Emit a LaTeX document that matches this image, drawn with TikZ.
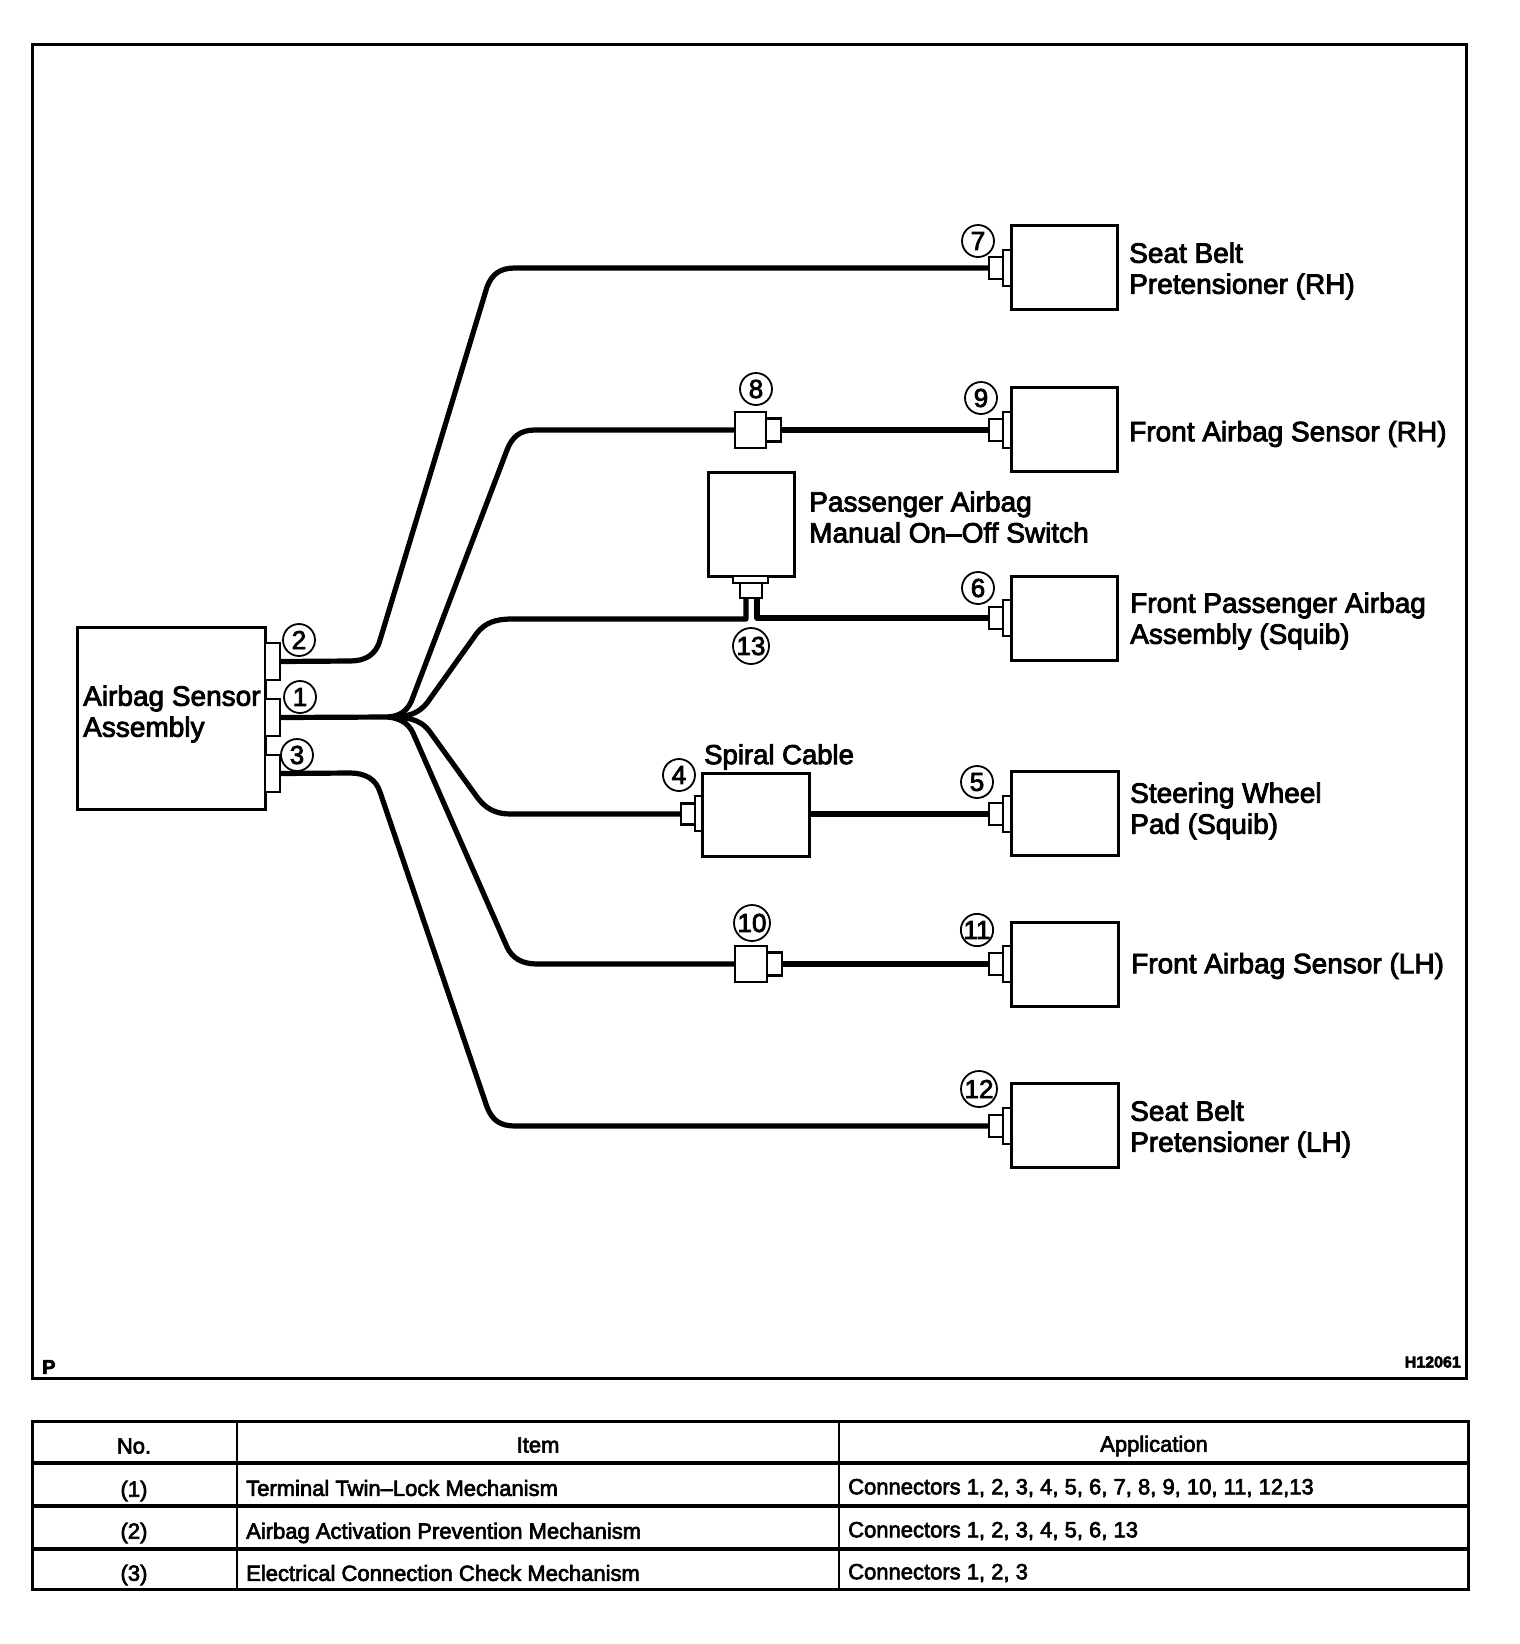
\documentclass[tikz,border=0pt]{standalone}
\usepackage{fontspec}
\setmainfont[FakeBold=3]{Liberation Sans}
\tikzset{
  x=1pt,y=-1pt,
  boxn/.style={draw,line width=3pt,fill=white,anchor=north west,inner sep=0pt,outer sep=0pt},
  part/.style={draw,line width=2.6pt,fill=white,anchor=north west,inner sep=0pt,outer sep=0pt},
  num/.style={circle,draw,line width=1.8pt,minimum size=32pt,inner sep=0pt,font=\fontsize{26}{26}\selectfont},
  numb/.style={num,minimum size=36pt},
  wire/.style={line width=5.2pt,line join=round},
  lab/.style={anchor=west,align=left,inner sep=0pt,font=\fontsize{28}{31}\selectfont},
  cell/.style={inner sep=0pt,font=\fontsize{22}{22}\selectfont},
  cellw/.style={cell,anchor=west},
  rule/.style={line width=3.2pt},
}
\newcommand{\rbox}[5]{\node[#1,minimum width=#4 pt,minimum height=#5 pt] (#2) at #3 {};}
\newcommand{\termconn}[2]{%
  \rbox{part}{#1f}{(1003,#2-18)}{8}{36}
  \rbox{part}{#1p}{(989,#2-11)}{14}{22}
}
\begin{document}
\begin{tikzpicture}
\useasboundingbox (0,0) rectangle (1520,1644);
\node[draw,rule,anchor=north west,minimum width=1434pt,minimum height=1334pt,inner sep=0pt] (frame) at (31,42.5) {};
% wires
\coordinate (fan) at (388,717);
% end boxes
\rbox{boxn}{b7}{(1011,225)}{106}{84}
\rbox{boxn}{b9}{(1011,387)}{106}{84}
\rbox{boxn}{b6}{(1011,576)}{106}{84}
\rbox{boxn}{b5}{(1011,771)}{107}{84}
\rbox{boxn}{b11}{(1011,922)}{107}{84}
\rbox{boxn}{b12}{(1011,1083)}{107}{84}
\termconn{c7}{268}
\termconn{c9}{430}
\termconn{c6}{618}
\termconn{c5}{814}
\termconn{c11}{964}
\termconn{c12}{1126}
% sensor
\rbox{boxn}{sensor}{(77,627)}{188}{182}
\rbox{part}{c2}{(265,643)}{15}{37}
\rbox{part}{c1}{(265,699)}{15}{37}
\rbox{part}{c3}{(265,755)}{15}{37}
% inline connectors
\rbox{part}{c8b}{(735,412)}{31}{36}
\rbox{part}{c8p}{(766,418.5)}{15}{23}
\rbox{part}{c10b}{(735,946)}{32}{36}
\rbox{part}{c10p}{(767,952.5)}{15}{23}
% switch
\rbox{boxn}{sw}{(708,472)}{86}{104}
\rbox{part}{swf}{(733,576)}{35}{7}
\rbox{part}{swp}{(740,583)}{22}{15}
% spiral
\rbox{boxn}{spiral}{(702,773)}{107}{83}
\rbox{part}{c4f}{(695,796)}{7}{35}
\rbox{part}{c4p}{(681,803.5)}{14}{21}
% connectors
\draw[wire] (c2.east) -- (350,661) .. controls (365,661) and (376,655) .. (380,640)
  -- (487,287) .. controls (492,274) and (500,268) .. (515,268) -- (c7p.west);
\draw[wire] (c1.east) -- (fan);
\draw[wire] (fan) .. controls (402,716) and (409,709) .. (413,697)
  -- (507,450) .. controls (512,437) and (520,430) .. (535,430) -- (c8b.west);
\draw[wire] (c8p.east) -- (c9p.west);
\draw[wire] (fan) .. controls (408,717) and (418,714) .. (427,703)
  -- (477,633) .. controls (485,623) and (495,619) .. (512,619) -- (746,619) -- (746,598);
\coordinate (swr) at (757,598);
\draw[wire] (swr) -- (757,618) -- (c6p.west);
\draw[wire] (fan) .. controls (405,717) and (420,718) .. (430,732)
  -- (477,797) .. controls (485,808) and (495,814) .. (510,814) -- (c4p.west);
\draw[wire] (spiral.east |- c5p.west) -- (c5p.west);
\draw[wire] (fan) .. controls (398,718) and (408,722) .. (413,733)
  -- (507,947) .. controls (512,958) and (522,964) .. (537,964) -- (c10b.west);
\draw[wire] (c10p.east) -- (c11p.west);
\draw[wire] (c3.east) -- (350,773) .. controls (365,773) and (376,779) .. (380,792)
  -- (487,1107) .. controls (492,1120) and (500,1126) .. (515,1126) -- (c12p.west);
% numbers
\node[num] (n1) at (300,697) {1};
\node[num] (n2) at (299,640) {2};
\node[num] (n3) at (297,755) {3};
\node[num] (n4) at (679,775) {4};
\node[num] (n5) at (977,782) {5};
\node[num] (n6) at (978,588) {6};
\node[num] (n7) at (978,241) {7};
\node[num] (n8) at (756,389) {8};
\node[num] (n9) at (981,398) {9};
\node[numb] (n10) at (752,923) {10};
\node[num] (n11) at (977,930) {11};
\node[numb] (n12) at (979,1089) {12};
\node[numb] (n13) at (751,646) {13};
% labels
\node[lab] (t1) at (83,714) {Airbag Sensor\\Assembly};
\node[lab] (t2) at (1129,271) {Seat Belt\\Pretensioner (RH)};
\node[lab] (t3) at (1129,434) {Front Airbag Sensor (RH)};
\node[lab] (t4) at (809,517) {Passenger Airbag\\Manual On–Off Switch};
\node[lab] (t5) at (1130,621) {Front Passenger Airbag\\Assembly (Squib)};
\node[lab] (t6) at (1130,811) {Steering Wheel\\Pad (Squib)};
\node[lab,font=\fontsize{27.5}{31}\selectfont] (t7) at (704,757) {Spiral Cable};
\node[lab] (t8) at (1131,966) {Front Airbag Sensor (LH)};
\node[lab] (t9) at (1130,1129) {Seat Belt\\Pretensioner (LH)};
\node[anchor=west,inner sep=0pt,font=\bfseries\fontsize{20}{20}\selectfont] (tp) at (42,1367) {P};
\node[anchor=east,inner sep=0pt,font=\bfseries\fontsize{16}{16}\selectfont] (th) at (1461,1362) {H12061};
% table
\node[draw,rule,anchor=north west,minimum width=1436pt,minimum height=168pt,inner sep=0pt] (tbl) at (31,1420) {};
\draw[rule] (31,1463) -- (1467,1463) (31,1506) -- (1467,1506) (31,1549) -- (1467,1549);
\draw[line width=2.6pt] (237,1420) -- (237,1588) (839,1420) -- (839,1588);
\node[cell] (h1) at (134,1446) {No.};
\node[cell] (h2) at (538,1445) {Item};
\node[cell] (h3) at (1154,1446) {Application};
\node[cell] (r1) at (134,1491) {(1)};
\node[cell] (r2) at (134,1533) {(2)};
\node[cell] (r3) at (134,1575) {(3)};
\node[cellw] (i1) at (246,1488) {Terminal Twin–Lock Mechanism};
\node[cellw] (i2) at (246,1533) {Airbag Activation Prevention Mechanism};
\node[cellw] (i3) at (246,1573) {Electrical Connection Check Mechanism};
\node[cellw] (a1) at (848,1488) {Connectors 1, 2, 3, 4, 5, 6, 7, 8, 9, 10, 11, 12,13};
\node[cellw] (a2) at (848,1531) {Connectors 1, 2, 3, 4, 5, 6, 13};
\node[cellw] (a3) at (848,1573) {Connectors 1, 2, 3};
\end{tikzpicture}
\end{document}
